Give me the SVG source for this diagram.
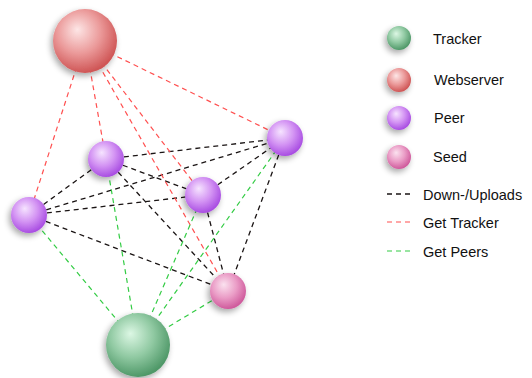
<svg xmlns="http://www.w3.org/2000/svg" width="532" height="378" viewBox="0 0 532 378">
  <style>
    .dl { stroke: #1a1414; stroke-width: 1.3; stroke-dasharray: 5 4; fill: none; }
    .gt { stroke: #ff5050; stroke-width: 1.2; stroke-dasharray: 5 4; fill: none; }
    .gp { stroke: #33cc44; stroke-width: 1.2; stroke-dasharray: 5 4; fill: none; }
    text { font-family: "Liberation Sans", Arial, sans-serif; font-size: 14.5px; fill: #111; }
    .ball { filter: url(#shadow); }
  </style>
  <defs>
    <filter id="shadow" x="-40%" y="-40%" width="180%" height="180%">
      <feGaussianBlur in="SourceAlpha" stdDeviation="3"/>
      <feOffset dx="-2" dy="3" result="b"/>
      <feComponentTransfer><feFuncA type="linear" slope="0.35"/></feComponentTransfer>
      <feMerge><feMergeNode/><feMergeNode in="SourceGraphic"/></feMerge>
    </filter>
    <radialGradient id="gWeb" cx="0.42" cy="0.38" r="0.62" fx="0.38" fy="0.32">
      <stop offset="0" stop-color="#fde6e6"/>
      <stop offset="0.55" stop-color="#eb9a9a"/>
      <stop offset="1" stop-color="#cf5656"/>
    </radialGradient>
    <radialGradient id="gTrk" cx="0.42" cy="0.38" r="0.62" fx="0.38" fy="0.32">
      <stop offset="0" stop-color="#dcf7e4"/>
      <stop offset="0.55" stop-color="#90c9a2"/>
      <stop offset="1" stop-color="#4f9868"/>
    </radialGradient>
    <radialGradient id="gPeer" cx="0.42" cy="0.38" r="0.62" fx="0.38" fy="0.32">
      <stop offset="0" stop-color="#f6e4ff"/>
      <stop offset="0.55" stop-color="#d393f3"/>
      <stop offset="1" stop-color="#a94ee2"/>
    </radialGradient>
    <radialGradient id="gSeed" cx="0.42" cy="0.38" r="0.62" fx="0.38" fy="0.32">
      <stop offset="0" stop-color="#fbe2ef"/>
      <stop offset="0.55" stop-color="#ea9cc6"/>
      <stop offset="1" stop-color="#cf5a9c"/>
    </radialGradient>
  </defs>

  <!-- connectors, drawn centre to centre beneath the balls -->
  <g id="connectors">
    <!-- Down-/Uploads -->
    <line class="dl" x1="29" y1="215" x2="106" y2="159"/>
    <line class="dl" x1="29" y1="215" x2="285" y2="138"/>
    <line class="dl" x1="29" y1="215" x2="203" y2="195"/>
    <line class="dl" x1="29" y1="215" x2="228" y2="291"/>
    <line class="dl" x1="106" y1="159" x2="285" y2="138"/>
    <line class="dl" x1="106" y1="159" x2="203" y2="195"/>
    <line class="dl" x1="106" y1="159" x2="228" y2="291"/>
    <line class="dl" x1="203" y1="195" x2="285" y2="138"/>
    <line class="dl" x1="203" y1="195" x2="228" y2="291"/>
    <line class="dl" x1="285" y1="138" x2="228" y2="291"/>
    <!-- Get Tracker -->
    <line class="gt" x1="85" y1="41" x2="29" y2="215"/>
    <line class="gt" x1="85" y1="41" x2="106" y2="159"/>
    <line class="gt" x1="85" y1="41" x2="203" y2="195"/>
    <line class="gt" x1="85" y1="41" x2="228" y2="291"/>
    <line class="gt" x1="85" y1="41" x2="285" y2="138"/>
    <!-- Get Peers -->
    <line class="gp" x1="138" y1="345" x2="29" y2="215"/>
    <line class="gp" x1="138" y1="345" x2="106" y2="159"/>
    <line class="gp" x1="138" y1="345" x2="203" y2="195"/>
    <line class="gp" x1="138" y1="345" x2="285" y2="138"/>
    <line class="gp" x1="138" y1="345" x2="228" y2="291"/>
  </g>

  <g id="webserver"><circle class="ball" cx="85" cy="41" r="32" fill="url(#gWeb)"/></g>
  <g id="tracker"><circle class="ball" cx="138" cy="345" r="32" fill="url(#gTrk)"/></g>
  <g id="peer-left"><circle class="ball" cx="29" cy="215" r="18" fill="url(#gPeer)"/></g>
  <g id="peer-top"><circle class="ball" cx="106" cy="159" r="18" fill="url(#gPeer)"/></g>
  <g id="peer-mid"><circle class="ball" cx="203" cy="195" r="18" fill="url(#gPeer)"/></g>
  <g id="peer-right"><circle class="ball" cx="285" cy="138" r="18" fill="url(#gPeer)"/></g>
  <g id="seed"><circle class="ball" cx="228" cy="291" r="18" fill="url(#gSeed)"/></g>

  <!-- legend -->
  <g id="legend">
    <circle class="ball" cx="399" cy="38" r="12" fill="url(#gTrk)"/>
    <text x="433" y="44">Tracker</text>
    <circle class="ball" cx="399" cy="80" r="12" fill="url(#gWeb)"/>
    <text x="434" y="85">Webserver</text>
    <circle class="ball" cx="399" cy="118" r="12" fill="url(#gPeer)"/>
    <text x="434" y="123">Peer</text>
    <circle class="ball" cx="399" cy="157" r="12" fill="url(#gSeed)"/>
    <text x="433" y="162">Seed</text>
    <line class="dl" x1="387" y1="194" x2="413" y2="194"/>
    <text x="423" y="200">Down-/Uploads</text>
    <line class="gt" x1="387" y1="222" x2="413" y2="222"/>
    <text x="423" y="228">Get Tracker</text>
    <line class="gp" x1="387" y1="251" x2="413" y2="251"/>
    <text x="423" y="257">Get Peers</text>
  </g>
</svg>
